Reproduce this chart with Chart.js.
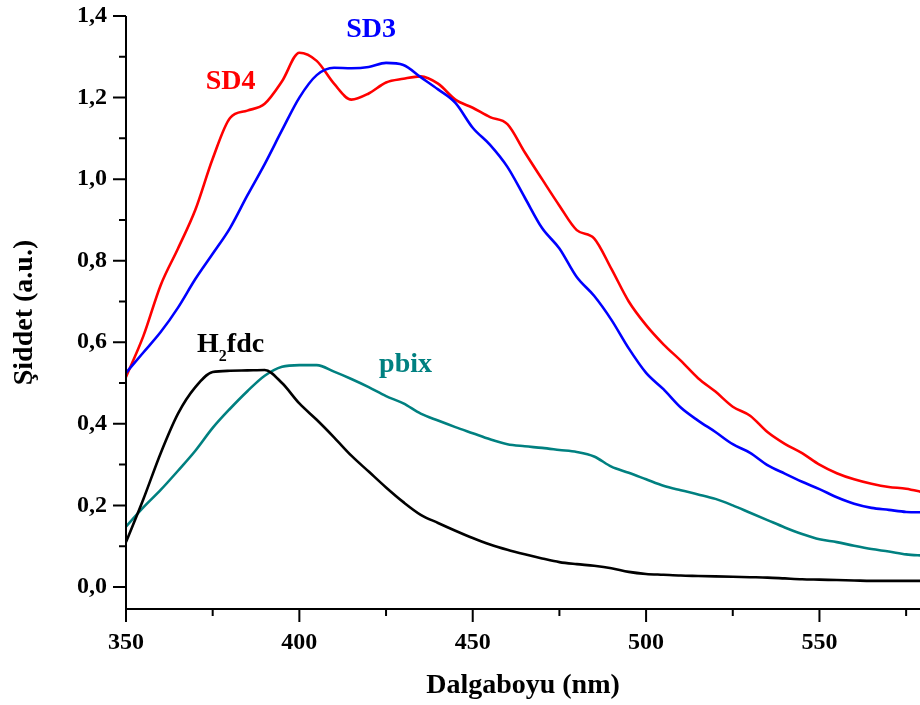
<!DOCTYPE html>
<html>
<head>
<meta charset="utf-8">
<script src="https://cdn.jsdelivr.net/npm/chart.js@4/dist/chart.umd.min.js"></script>
<style>
    body { margin: 0; background: #fff; }
    #wrap { width: 920px; height: 705px; }
</style>
</head>
<body>
<div id="wrap"><canvas id="spectra" width="920" height="705"></canvas></div>
<script>
// emission spectra, 5 nm steps
const wavelength = [350, 355, 360, 365, 370, 375, 380, 385, 390, 395, 400, 405, 410, 415, 420, 425, 430, 435, 440, 445,
    450, 455, 460, 465, 470, 475, 480, 485, 490, 495, 500, 505, 510, 515, 520, 525, 530, 535, 540, 545,
    550, 555, 560, 565, 570, 575, 580]

const sd4 = [0.515, 0.615, 0.74, 0.83, 0.925, 1.05, 1.15, 1.168, 1.185, 1.24, 1.31, 1.29, 1.234, 1.195, 1.21, 1.237, 1.246, 1.252, 1.234, 1.195,
    1.175, 1.152, 1.135, 1.066, 1.0, 0.935, 0.875, 0.855, 0.78, 0.70, 0.642, 0.595, 0.555, 0.512, 0.479, 0.442, 0.42, 0.38, 0.351, 0.328,
    0.300, 0.279, 0.264, 0.253, 0.245, 0.241, 0.232]

const sd3 = [0.525, 0.575, 0.625, 0.685, 0.755, 0.817, 0.88, 0.96, 1.037, 1.12, 1.20, 1.255, 1.273, 1.272, 1.275, 1.285, 1.28, 1.25, 1.22, 1.187,
    1.126, 1.084, 1.03, 0.955, 0.88, 0.83, 0.76, 0.714, 0.655, 0.585, 0.525, 0.485, 0.44, 0.408, 0.38, 0.35, 0.329, 0.299, 0.278, 0.258,
    0.24, 0.22, 0.204, 0.194, 0.189, 0.184, 0.183]

const h2fdc = [0.11, 0.215, 0.328, 0.425, 0.49, 0.527, 0.53, 0.531, 0.532, 0.50, 0.45, 0.41, 0.367, 0.322, 0.283, 0.244, 0.208, 0.177, 0.157, 0.138,
    0.12, 0.104, 0.091, 0.08, 0.07, 0.061, 0.056, 0.052, 0.046, 0.037, 0.032, 0.030, 0.028, 0.027, 0.026, 0.025, 0.024, 0.023, 0.021, 0.019,
    0.018, 0.017, 0.016, 0.015, 0.015, 0.015, 0.015]

const pbix = [0.148, 0.195, 0.238, 0.285, 0.334, 0.39, 0.437, 0.48, 0.518, 0.54, 0.544, 0.544, 0.528, 0.51, 0.49, 0.468, 0.45, 0.425, 0.408, 0.392,
    0.377, 0.362, 0.35, 0.345, 0.341, 0.336, 0.331, 0.32, 0.295, 0.28, 0.264, 0.248, 0.237, 0.227, 0.216, 0.20, 0.182, 0.164, 0.146, 0.13,
    0.117, 0.11, 0.101, 0.093, 0.087, 0.08, 0.077]

const serif = "'Liberation Serif', 'Times New Roman', serif"

function series(values) {
    return wavelength.map((x, i) => ({ x: x, y: values[i] }))
}

function isMajorY(value) {
    return Math.round(value * 10) % 2 === 0
}

function isMajorX(value) {
    return Math.round(value) % 50 === 0
}

// left and bottom axis lines with long/short outward ticks
const axesPlugin = {
    id: 'axes',
    afterDraw(chart) {
        const ctx = chart.ctx
        const { left, right, top, bottom } = chart.chartArea
        const xs = chart.scales.x
        const ys = chart.scales.y
        ctx.save()
        ctx.strokeStyle = '#000'
        ctx.lineWidth = 2
        ctx.beginPath()
        ctx.moveTo(left, top)
        ctx.lineTo(left, bottom)
        ctx.lineTo(right, bottom)
        xs.ticks.forEach(t => {
            const px = xs.getPixelForValue(t.value)
            ctx.moveTo(px, bottom)
            ctx.lineTo(px, bottom + (isMajorX(t.value) ? 13 : 7))
        })
        ys.ticks.forEach(t => {
            const py = ys.getPixelForValue(t.value)
            ctx.moveTo(left, py)
            ctx.lineTo(left - (isMajorY(t.value) ? 13 : 7), py)
        })
        ctx.stroke()
        ctx.restore()
    }
}

// curve names next to the lines
const curveLabels = [
    { text: 'SD4', color: '#ff0000', x: 373, y: 1.221 },
    { text: 'SD3', color: '#0000ff', x: 413.5, y: 1.348 },
    { text: 'H', sub: '2', rest: 'fdc', color: '#000000', x: 370.5, y: 0.576 },
    { text: 'pbix', color: '#008080', x: 423, y: 0.527 }
]

const labelPlugin = {
    id: 'curveLabels',
    afterDatasetsDraw(chart) {
        const ctx = chart.ctx
        const xs = chart.scales.x
        const ys = chart.scales.y
        ctx.save()
        ctx.textAlign = 'left'
        ctx.textBaseline = 'alphabetic'
        curveLabels.forEach(l => {
            let px = xs.getPixelForValue(l.x)
            const py = ys.getPixelForValue(l.y)
            ctx.fillStyle = l.color
            ctx.font = 'bold 28px ' + serif
            ctx.fillText(l.text, px, py)
            if (l.sub) {
                px += ctx.measureText(l.text).width
                ctx.font = 'bold 16px ' + serif
                ctx.fillText(l.sub, px, py + 9)
                px += ctx.measureText(l.sub).width
                ctx.font = 'bold 28px ' + serif
                ctx.fillText(l.rest, px, py)
            }
        })
        ctx.restore()
    }
}

function line(label, values, color) {
    return {
        label: label,
        data: series(values),
        borderColor: color,
        borderWidth: 2.6,
        pointRadius: 0,
        fill: false,
        cubicInterpolationMode: 'monotone'
    }
}

const ctx = document.querySelector('#spectra').getContext('2d')

new Chart(ctx, {
    type: 'line',
    data: {
        datasets: [
            line('H2fdc', h2fdc, '#000000'),
            line('pbix', pbix, '#008080'),
            line('SD3', sd3, '#0000ff'),
            line('SD4', sd4, '#ff0000')
        ]
    },
    options: {
        responsive: false,
        animation: false,
        layout: { padding: { top: 16, right: 0, bottom: 0, left: 0 } },
        plugins: {
            legend: { display: false },
            tooltip: { enabled: false }
        },
        scales: {
            x: {
                type: 'linear',
                min: 350,
                max: 579,
                grid: { display: false, drawTicks: false },
                border: { display: false },
                ticks: {
                    stepSize: 25,
                    includeBounds: false,
                    autoSkip: false,
                    maxRotation: 0,
                    padding: 19,
                    color: '#000',
                    font: { family: serif, size: 24, weight: 'bold' },
                    callback: value => isMajorX(value) ? String(value) : ''
                },
                title: {
                    display: true,
                    text: 'Dalgaboyu (nm)',
                    color: '#000',
                    font: { family: serif, size: 28, weight: 'bold' },
                    padding: { top: 0, bottom: 2 }
                },
                afterFit: scale => {
                    scale.height = 96
                    scale.paddingLeft = 0
                    scale.paddingRight = 0
                }
            },
            y: {
                min: -0.054,
                max: 1.4,
                grid: { display: false, drawTicks: false },
                border: { display: false },
                ticks: {
                    stepSize: 0.1,
                    includeBounds: false,
                    autoSkip: false,
                    padding: 19,
                    color: '#000',
                    font: { family: serif, size: 24, weight: 'bold' },
                    callback: value => isMajorY(value) ? (Math.round(value * 10) / 10).toFixed(1).replace('.', ',') : ''
                },
                title: {
                    display: true,
                    text: 'Şiddet (a.u.)',
                    color: '#000',
                    font: { family: serif, size: 28, weight: 'bold' },
                    padding: { top: 8, bottom: 0 }
                },
                afterFit: scale => {
                    scale.width = 126
                    scale.paddingTop = 0
                    scale.paddingBottom = 0
                }
            }
        }
    },
    plugins: [axesPlugin, labelPlugin]
})
</script>
</body>
</html>
